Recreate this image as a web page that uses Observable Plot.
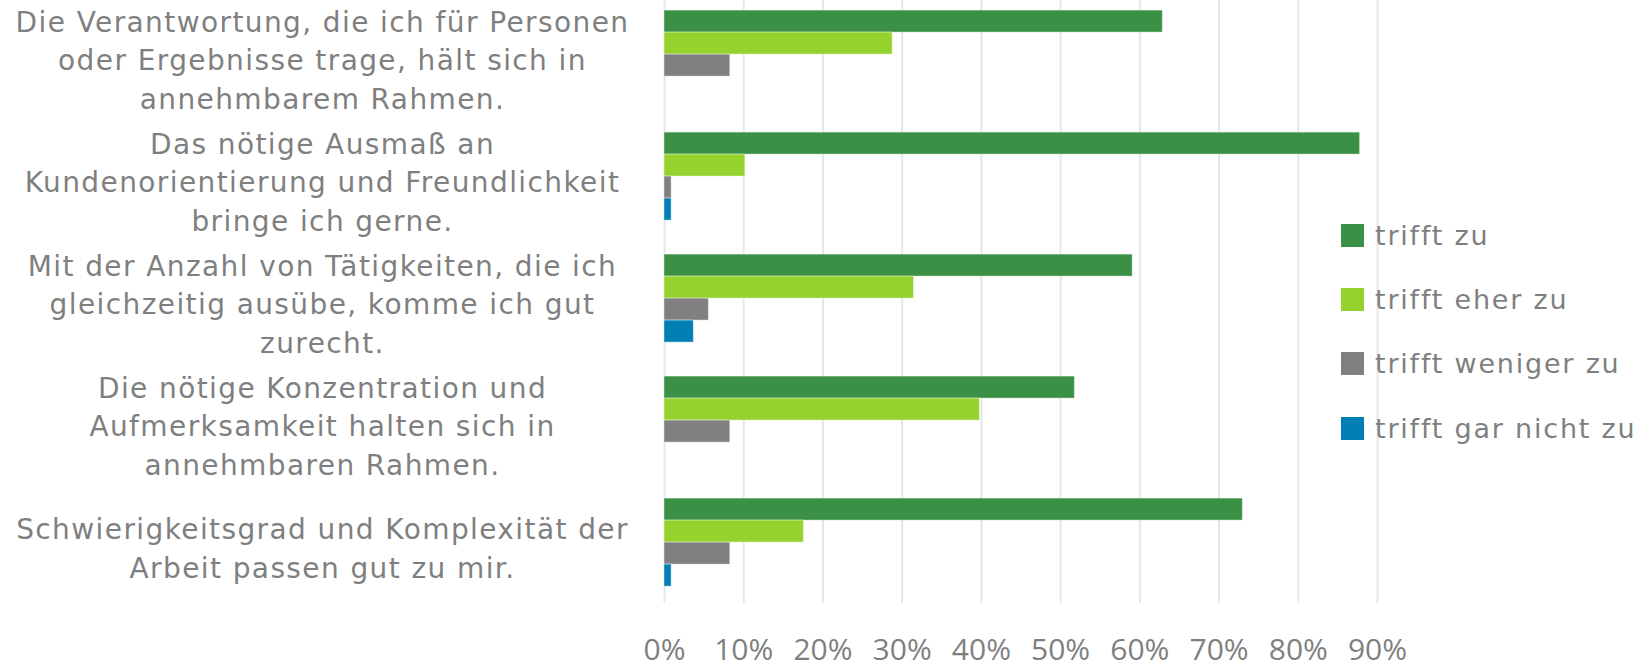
<!DOCTYPE html>
<html><head><meta charset="utf-8">
<script src="https://cdn.jsdelivr.net/npm/d3@7"></script>
<script src="https://cdn.jsdelivr.net/npm/@observablehq/plot@0.6"></script>
<style>
html,body{margin:0;padding:0;background:#fff;overflow:hidden;}
#wrap{position:relative;width:1652px;height:665px;}
#chart svg{display:block;}
#chart g[aria-label="text"] text{letter-spacing:1.4px;}
#legend{position:absolute;left:1341px;top:203px;}
#legend .lg-swatches{font-family:"DejaVu Sans",sans-serif !important;font-size:27px !important;color:#7f7f7f !important;margin:0 !important;letter-spacing:1.8px;}
#legend .lg-swatch{height:64.3px;padding:0 !important;margin:0 !important;display:flex;align-items:center;}
#legend .lg-swatch > svg{margin-right:11px !important;flex-shrink:0;}
</style>
</head><body>
<div id="wrap"><div id="chart"></div><div id="legend"></div></div>
<script>
const categories = [
  "Die Verantwortung, die ich für Personen\noder Ergebnisse trage, hält sich in\nannehmbarem Rahmen.",
  "Das nötige Ausmaß an\nKundenorientierung und Freundlichkeit\nbringe ich gerne.",
  "Mit der Anzahl von Tätigkeiten, die ich\ngleichzeitig ausübe, komme ich gut\nzurecht.",
  "Die nötige Konzentration und\nAufmerksamkeit halten sich in\nannehmbaren Rahmen.",
  "Schwierigkeitsgrad und Komplexität der\nArbeit passen gut zu mir."
];
const series = ["trifft zu", "trifft eher zu", "trifft weniger zu", "trifft gar nicht zu"];
const trifftZu      = [0.629, 0.878, 0.591, 0.518, 0.730];
const trifftEherZu  = [0.288, 0.102, 0.315, 0.398, 0.176];
const trifftWeniger = [0.083, 0.009, 0.056, 0.083, 0.083];
const trifftGarNicht= [0.000, 0.009, 0.037, 0.000, 0.009];
const colors = ["#3a9145", "#95d22d", "#808080", "#007fb5"];
const xTicks = [0, 0.1, 0.2, 0.3, 0.4, 0.5, 0.6, 0.7, 0.8, 0.9];

const seriesValues = [trifftZu, trifftEherZu, trifftWeniger, trifftGarNicht];
const table = categories.flatMap((c, i) => series.map((s, j) => ({category: c, series: s, value: seriesValues[j][i]})));

const textColor = "#7f7f7f";
const chart = Plot.plot({
  width: 1652, height: 665,
  marginLeft: 664, marginRight: 275, marginTop: -8.1, marginBottom: 60.5,
  style: {background: "white", fontFamily: "DejaVu Sans", color: textColor, fontSize: "27px"},
  x: {domain: [0, 0.9], axis: null},
  y: {domain: series, paddingInner: 0, paddingOuter: 0.759, axis: null},
  fy: {domain: categories, padding: 0, axis: null},
  color: {domain: series, range: colors},
  marks: [
    Plot.gridX({ticks: xTicks, stroke: "#e6e6e6", strokeOpacity: 1, strokeWidth: 2}),
    Plot.barX(table, {filter: d => d.value > 0, fy: "category", y: "series", x: "value", fill: "series", stroke: "white", strokeOpacity: 0.4, strokeWidth: 1}),
    Plot.axisX({ticks: xTicks, tickFormat: d3.format(".0%"), tickSize: 0, tickPadding: 35, fontSize: 30, fontFamily: "Open Sans", fill: textColor, label: null}),
    Plot.text(categories, {fy: d => d, text: d => d, frameAnchor: "left", dx: -342, dy: 3.5, textAnchor: "middle", lineAnchor: "middle", lineHeight: 1.375, fontSize: 28, fontFamily: "DejaVu Sans", fill: textColor})
  ]
});
document.getElementById("chart").appendChild(chart);

const legend = Plot.legend({color: {domain: series, range: colors}, legend: "swatches", columns: 1, swatchSize: 23, className: "lg"});
document.getElementById("legend").appendChild(legend);
</script>
</body></html>
